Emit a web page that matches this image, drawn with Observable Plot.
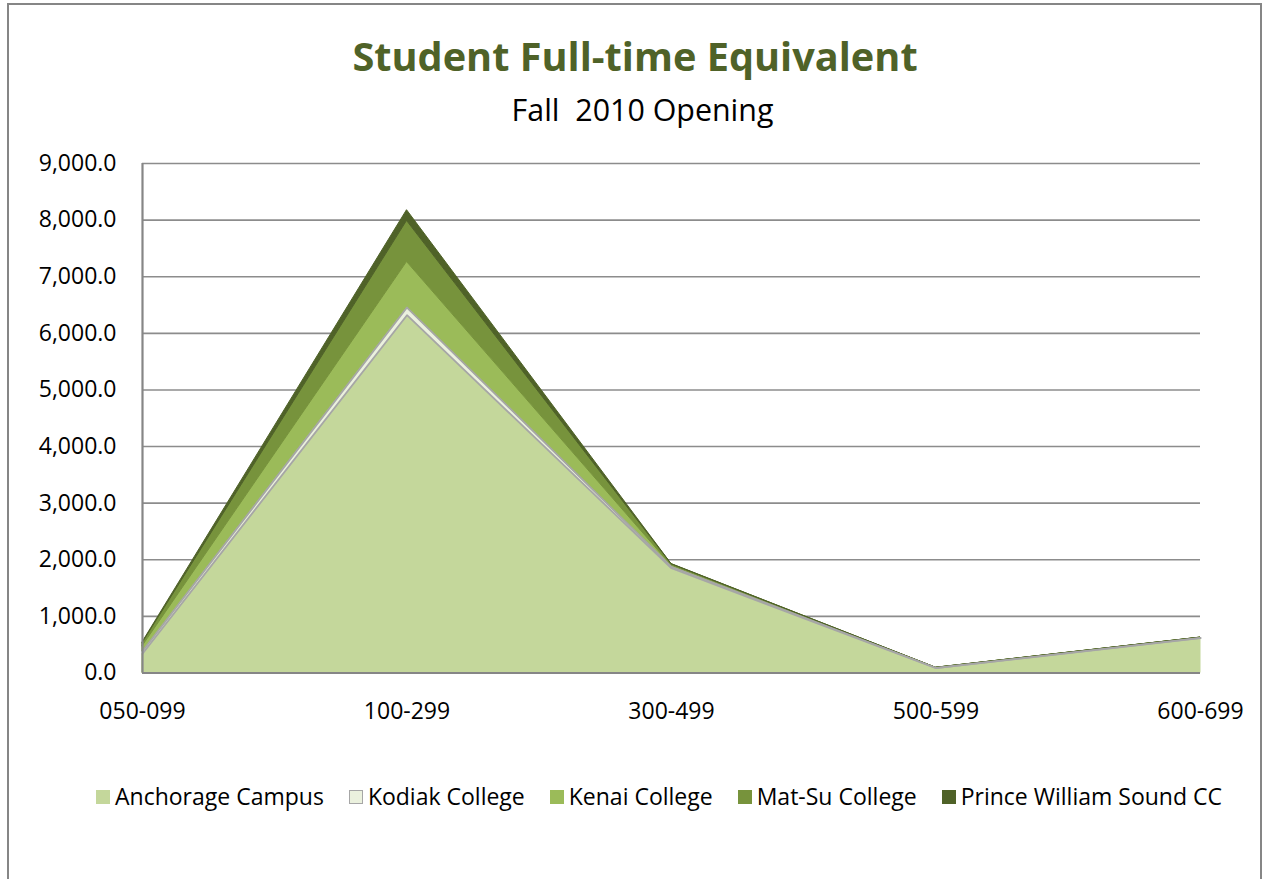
<!DOCTYPE html>
<html>
<head>
<meta charset="utf-8">
<script src="https://cdn.jsdelivr.net/npm/d3@7"></script>
<script src="https://cdn.jsdelivr.net/npm/@observablehq/plot@0.6"></script>
<style>
  html, body { margin: 0; padding: 0; background: #fff; }
  body { width: 1263px; height: 879px; position: relative; overflow: hidden; font-family: "Open Sans", sans-serif; }
  #frame { position: absolute; left: 7px; top: 3px; width: 1255px; height: 900px; border: 2px solid #868686; box-sizing: border-box; }
  #title { position: absolute; left: 0; width: 1270px; top: 37px; text-align: center; font-size: 39.7px; line-height: 1; font-weight: 700; color: #4F6228; }
  #subtitle { position: absolute; left: 11px; width: 1263px; top: 95px; text-align: center; font-size: 30.4px; line-height: 1; color: #000; }
  #chart { position: absolute; left: 0; top: 140px; }
  #legend { position: absolute; left: 96px; top: 785px; display: flex; gap: 25px; font-size: 23px; line-height: 1; color: #000; white-space: nowrap; }
  .item { display: flex; align-items: center; }
  .sw { width: 14px; height: 14px; margin-right: 5px; box-sizing: border-box; }
</style>
</head>
<body>
<div id="frame"></div>
<div id="title">Student Full-time Equivalent</div>
<div id="subtitle">Fall&nbsp; 2010 Opening</div>
<div id="chart"></div>
<div id="legend"></div>
<script>
const categories = ["050-099", "100-299", "300-499", "500-599", "600-699"];
const seriesNames = ["Anchorage Campus", "Kodiak College", "Kenai College", "Mat-Su College", "Prince William Sound CC"];
const anchorage = [340, 6320, 1850, 85, 615];
const kodiak = [45, 135, 25, 3, 5];
const kenai = [85, 805, 20, 2, 3];
const matsu = [55, 725, 25, 2, 2];
const pws = [15, 190, 5, 1, 1];
const seriesColors = ["#C4D79B", "#EBF1DE", "#9BBB59", "#77933C", "#4F6228"];
const yTicks = [0, 1000, 2000, 3000, 4000, 5000, 6000, 7000, 8000, 9000];

const seriesValues = [anchorage, kodiak, kenai, matsu, pws];
const rows = categories.flatMap((c, i) =>
  seriesNames.map((s, j) => ({ i, cat: c, series: s, value: seriesValues[j][i] }))
);
const stackOpts = { x: "i", y: "value", z: "series", order: seriesNames };
const isKodiak = d => d.series === "Kodiak College";

const chart = Plot.plot({
  width: 1263,
  height: 600,
  marginLeft: 142,
  marginRight: 63,
  marginTop: 23,
  marginBottom: 67.5,
  x: { domain: [0, categories.length - 1] },
  y: { domain: [0, 9000] },
  color: { domain: seriesNames, range: seriesColors },
  style: { fontFamily: "Open Sans, sans-serif", fontSize: "23px", color: "#000", background: "transparent", overflow: "visible" },
  marks: [
    Plot.ruleY(yTicks, { stroke: "#8c8c8c", strokeWidth: 1.6 }),
    Plot.areaY(rows, { ...stackOpts, fill: "series", stroke: "series", strokeWidth: 1 }),
    Plot.lineY(rows, Plot.filter(isKodiak, Plot.stackY1({ ...stackOpts }))),
    Plot.lineY(rows, Plot.filter(isKodiak, Plot.stackY2({ ...stackOpts }))),
    Plot.ruleX([0], { stroke: "#868686", strokeWidth: 2.2 }),
    Plot.ruleY([0], { stroke: "#868686", strokeWidth: 2.2 }),
    Plot.axisX({ ticks: categories.map((c, i) => i), tickFormat: i => categories[i], tickSize: 0, tickPadding: 30, label: null, fontSize: 23 }),
    Plot.axisY({ ticks: yTicks, tickFormat: d3.format(",.1f"), tickSize: 0, tickPadding: 26, label: null, fontSize: 23 })
  ]
});
document.getElementById("chart").appendChild(chart);
// Kodiak outline lines in grey
chart.querySelectorAll("g[aria-label='line'] path").forEach(p => { p.setAttribute("stroke", "#A6A6A6"); p.setAttribute("stroke-width", "1.8"); });

const legend = document.getElementById("legend");
seriesNames.forEach((s, j) => {
  const it = document.createElement("div");
  it.className = "item";
  const sw = document.createElement("div");
  sw.className = "sw";
  sw.style.background = seriesColors[j];
  if (s === "Kodiak College") sw.style.border = "1.5px solid #A6A6A6";
  const t = document.createElement("span");
  t.textContent = s;
  it.appendChild(sw); it.appendChild(t);
  legend.appendChild(it);
});
</script>
</body>
</html>
